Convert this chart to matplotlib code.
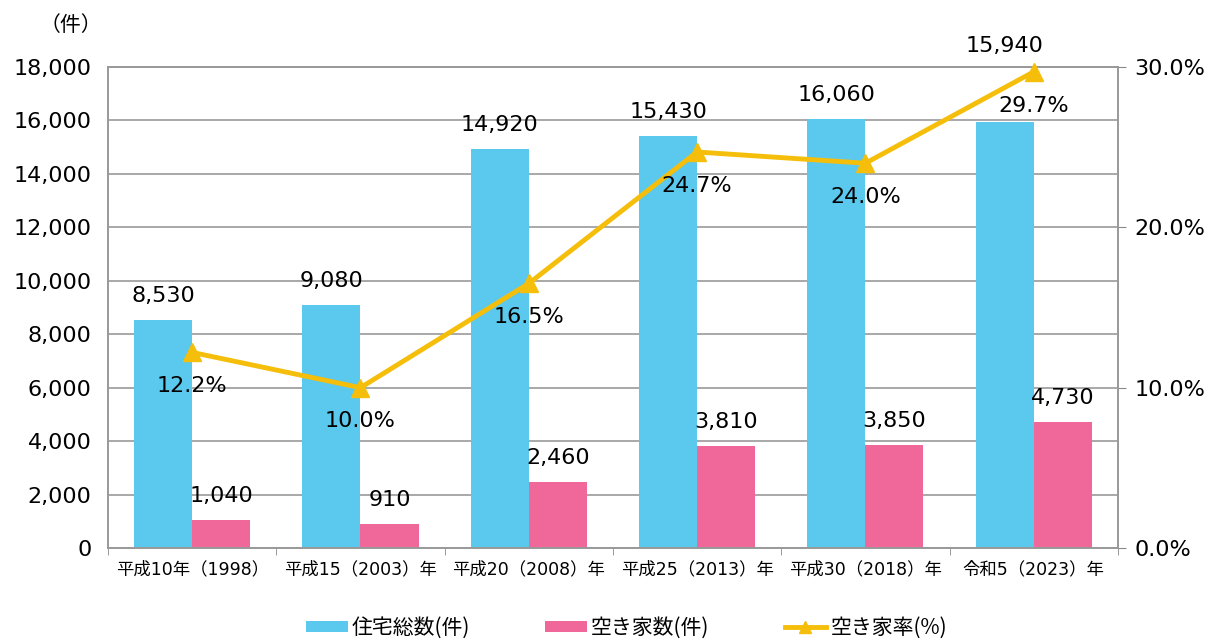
import matplotlib.pyplot as plt
import numpy as np
from matplotlib.ticker import FuncFormatter

plt.rcParams['font.family'] = ['DejaVu Sans', 'Noto Sans CJK JP']

categories = ['平成10年（1998）', '平成15（2003）年', '平成20（2008）年',
              '平成25（2013）年', '平成30（2018）年', '令和5（2023）年']
total_houses = [8530, 9080, 14920, 15430, 16060, 15940]
vacant_houses = [1040, 910, 2460, 3810, 3850, 4730]
vacancy_rate = [12.2, 10.0, 16.5, 24.7, 24.0, 29.7]

c_total = '#5bc8ee'
c_vacant = '#f0679a'
c_rate = '#f5be0a'

fig = plt.figure(figsize=(12.19, 6.42), dpi=100)
ax = fig.add_axes([0.0886, 0.1464, 0.8284, 0.7492])
ax2 = ax.twinx()

x = np.arange(len(categories))
w = 0.345

ax.bar(x - w / 2, total_houses, w, color=c_total, label='住宅総数(件)', zorder=2)
ax.bar(x + w / 2, vacant_houses, w, color=c_vacant, label='空き家数(件)', zorder=2)

for i, v in enumerate(total_houses):
    y = v + 900 if i < 5 else 18800
    ax.text(x[i] - w / 2, y, f'{v:,}', ha='center', va='center', fontsize=16)
for i, v in enumerate(vacant_houses):
    ax.text(x[i] + w / 2, v + 900, f'{v:,}', ha='center', va='center', fontsize=16)

ax2.plot(x, vacancy_rate, color=c_rate, lw=3.5, marker='^', markersize=13,
         label='空き家率(%)', zorder=3, clip_on=False)
for i, v in enumerate(vacancy_rate):
    ax2.text(x[i], v - 2.1, f'{v:.1f}%', ha='center', va='center', fontsize=16)

ax.set_xlim(-0.5, 5.5)
ax.set_ylim(0, 18000)
ax.set_yticks(range(0, 18001, 2000))
ax.yaxis.set_major_formatter(FuncFormatter(lambda v, p: f'{int(v):,}'))
ax.grid(axis='y', color='#999999', lw=1.2, zorder=0)
ax.set_axisbelow(True)
ax.set_xticks(x)
ax.set_xticklabels(categories, fontsize=12.5)
ax.set_xticks(np.arange(-0.5, 6, 1), minor=True)
ax.tick_params(axis='x', which='major', length=0, pad=9)
ax.tick_params(axis='x', which='minor', length=5, color='#888888')
ax.tick_params(axis='y', length=0, labelsize=16, pad=12)

ax2.set_ylim(0, 30)
ax2.set_yticks([0, 10, 20, 30])
ax2.yaxis.set_major_formatter(FuncFormatter(lambda v, p: f'{v:.1f}%'))
ax2.tick_params(axis='y', length=6, color='#888888', labelsize=16, pad=6)

for a in (ax, ax2):
    for s in a.spines.values():
        s.set_color('#999999')
        s.set_linewidth(1.2)

fig.text(0.058, 0.961, '（件）', fontsize=15, ha='center', va='center',
         family=['Noto Sans CJK JP'])

h1, l1 = ax.get_legend_handles_labels()
h2, l2 = ax2.get_legend_handles_labels()
fig.legend(h1 + h2, l1 + l2, loc='center', bbox_to_anchor=(0.514, 0.022),
           ncol=3, frameon=False, prop={'family': 'Noto Sans CJK JP', 'size': 15},
           columnspacing=3.6, handlelength=2.0, handleheight=0.45,
           handletextpad=0.2, markerscale=0.7)

fig.savefig('out.png', dpi=100)
